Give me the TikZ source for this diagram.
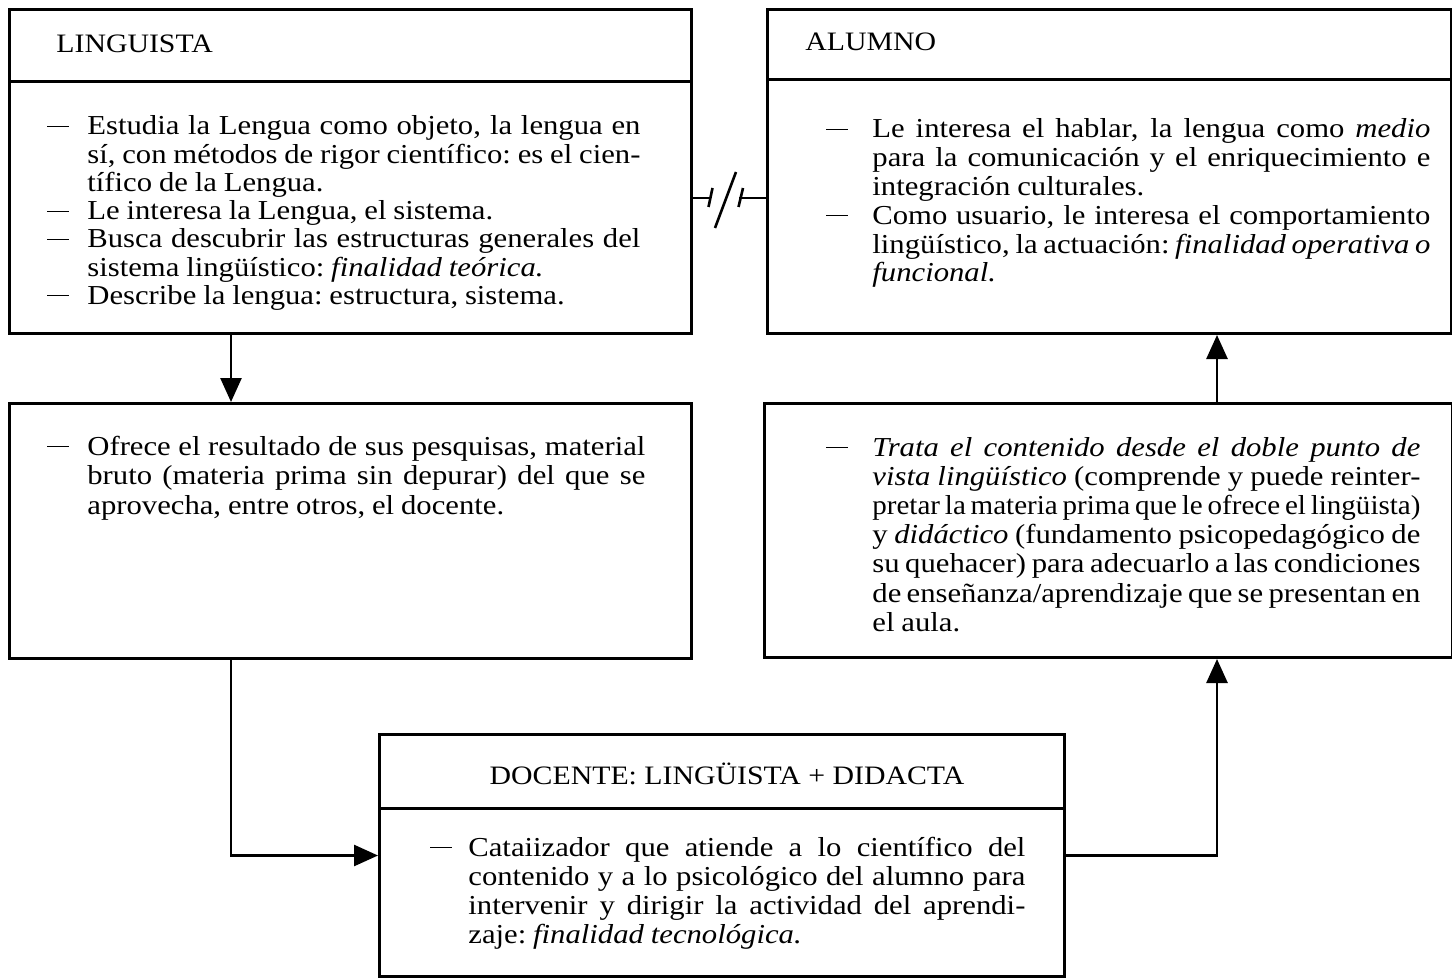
\documentclass[tikz,border=0pt]{standalone}
\usepackage{fontspec}
\setmainfont{Liberation Serif}[FakeStretch=1.12]
\usetikzlibrary{arrows.meta,calc}
\newlength\hangw
\newcommand\dashmark{\rule[4pt]{11pt}{0.5pt}}
% first justified line with dash, justified line, last (ragged) line, one-line item
\newcommand\bxf[1]{\hbox to\hsize{\makebox[\hangw][l]{\dashmark}#1}}
\newcommand\bxj[1]{\hbox to\hsize{\hskip\hangw #1}}
\newcommand\bxl[1]{\hbox{\hskip\hangw #1}}
\newcommand\bxo[1]{\hbox{\makebox[\hangw][l]{\dashmark}#1}}
\newcommand\bodysetup[3]{\hsize=#1\hangw=#2\baselineskip=#3\lineskiplimit=-20pt\spaceskip=0.25em plus 0.4em minus 0.1em\xspaceskip=\spaceskip}
\begin{document}
\begin{tikzpicture}[x=0.5pt,y=-0.5pt,
  box/.style={draw,line width=1.5pt,rectangle,inner sep=0pt,anchor=north west},
  sep/.style={line width=1.5pt},
  conn/.style={line width=1.3pt},
  arr/.style={conn,-{Triangle[length=12pt,width=10.5pt]}},
  body/.style={anchor=base west,inner sep=0pt,font=\fontsize{13.7}{14.5}\selectfont},
  head/.style={anchor=base west,inner sep=0pt,font=\fontsize{13.3}{16}\selectfont}]
\useasboundingbox (0,0) rectangle (1452,979);
% boxes
\node[box,minimum width=341pt,minimum height=162pt] (lin) at (8,8) {};
\node[box,minimum width=342pt,minimum height=162pt] (al) at (766,8) {};
\node[box,minimum width=341pt,minimum height=127.5pt] (ml) at (8,402) {};
\node[box,minimum width=344pt,minimum height=127pt] (mr) at (763,402) {};
\node[box,minimum width=342.5pt,minimum height=121pt] (doc) at (378,733) {};
% header separators
\draw[sep] (lin.west |- 0,82) -- (lin.east |- 0,82);
\draw[sep] (al.west |- 0,80) -- (al.east |- 0,80);
\draw[sep] (doc.west |- 0,808) -- (doc.east |- 0,808);
% headers
\node[head] (hlin) at (56,53) {LINGUISTA};
\node[head] (hal) at (805,51) {ALUMNO};
\node[head,anchor=base] (hdoc) at (727,784) {DOCENTE: LINGÜISTA + DIDACTA};
% bodies
\node[body] (tlin) at (47,135) {\vtop{\bodysetup{296.5pt}{20pt}{14.1pt}%
\bxf{Estudia la Lengua como objeto, la lengua en}
\bxj{sí, con métodos de rigor científico: es el cien-}
\bxl{tífico de la Lengua.}
\bxo{Le interesa la Lengua, el sistema.}
\bxf{Busca descubrir las estructuras generales del}
\bxl{sistema lingüístico: \textit{finalidad teórica.}}
\bxo{Describe la lengua: estructura, sistema.}}};
\node[body] (tal) at (826,138) {\vtop{\bodysetup{302pt}{23pt}{14.4pt}%
\bxf{Le interesa el hablar, la lengua como \textit{medio}}
\bxj{para la comunicación y el enriquecimiento e}
\bxl{integración culturales.}
\bxf{Como usuario, le interesa el comportamiento}
\bxj{lingüístico, la actuación: \textit{finalidad operativa o}}
\bxl{\textit{funcional.}}}};
\node[body] (tml) at (47,455) {\vtop{\bodysetup{299pt}{20pt}{14.8pt}%
\bxf{Ofrece el resultado de sus pesquisas, material}
\bxj{bruto (materia prima sin depurar) del que se}
\bxl{aprovecha, entre otros, el docente.}}};
\node[body] (tmr) at (826,456) {\vtop{\bodysetup{297pt}{23pt}{14.6pt}%
\bxf{\textit{Trata el contenido desde el doble punto de}}
\bxj{\textit{vista lingüístico} (comprende y puede reinter-}
\bxj{\addfontfeatures{FakeStretch=1.06}pretar la materia prima que le ofrece el lingüista)}
\bxj{y \textit{didáctico} (fundamento psicopedagógico de}
\bxj{su quehacer) para adecuarlo a las condiciones}
\bxj{de enseñanza/aprendizaje que se presentan en}
\bxl{el aula.}}};
\node[body] (tdoc) at (430,856) {\vtop{\bodysetup{297.5pt}{19pt}{14.5pt}%
\bxf{Cataiizador que atiende a lo científico del}
\bxj{contenido y a lo psicológico del alumno para}
\bxj{intervenir y dirigir la actividad del aprendi-}
\bxl{zaje: \textit{finalidad tecnológica.}}}};
% connectors
\coordinate (xl) at (231,0);
\coordinate (xr) at (1217,0);
\draw[arr] (lin.south -| xl) -- (ml.north -| xl);
\draw[arr] (ml.south -| xl) |- (doc.west);
\draw[arr] (doc.east) -| (mr.south -| xr);
\draw[arr] (mr.north -| xr) -- (al.south -| xr);
% broken relation
\coordinate (bl) at (710,198);
\coordinate (br) at (739,198);
\draw[conn] (lin.east |- bl) -- (bl);
\draw[conn] (br) -- (al.west |- br);
\draw[conn] (712.5,188) -- (708.5,207);
\draw[conn] (743,188) -- (738.5,207);
\draw[conn] (715,228) -- (736,172);
\end{tikzpicture}
\end{document}
